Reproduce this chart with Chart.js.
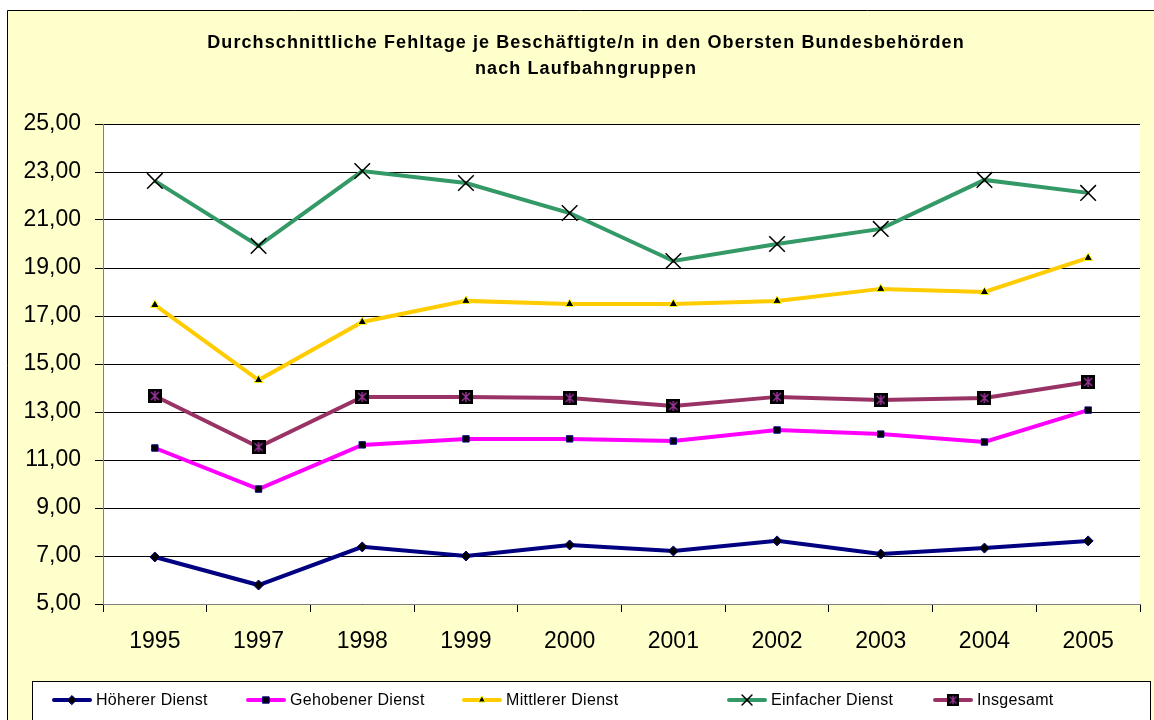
<!DOCTYPE html>
<html>
<head>
<meta charset="utf-8">
<script src="https://cdn.jsdelivr.net/npm/chart.js@4"></script>
<style>
  html, body { margin: 0; padding: 0; background: #fff; }
  #wrap { width: 1154px; height: 720px; }
</style>
</head>
<body>
<div id="wrap"><canvas id="chart" width="1154" height="720"></canvas></div>
<script>
const jahre = ["1995", "1997", "1998", "1999", "2000", "2001", "2002", "2003", "2004", "2005"];
const hoehererDienst = [6.96, 5.79, 7.38, 7.00, 7.46, 7.21, 7.63, 7.08, 7.33, 7.63];
const gehobenerDienst = [11.50, 9.79, 11.63, 11.88, 11.88, 11.79, 12.25, 12.08, 11.75, 13.08];
const mittlererDienst = [17.46, 14.33, 16.75, 17.63, 17.50, 17.50, 17.63, 18.13, 18.00, 19.42];
const einfacherDienst = [22.63, 19.92, 23.04, 22.54, 21.29, 19.29, 20.00, 20.63, 22.67, 22.13];
const insgesamt = [13.67, 11.54, 13.63, 13.63, 13.58, 13.25, 13.63, 13.50, 13.58, 14.25];
const titelZeilen = ["Durchschnittliche Fehltage je Beschäftigte/n in den Obersten Bundesbehörden", "nach Laufbahngruppen"];
const FONT = "'Liberation Sans', Arial, sans-serif";

// black square with purple asterisk, used as marker for "Insgesamt"
function makeStarMarker() {
    const c = document.createElement("canvas");
    c.width = 14; c.height = 14;
    const g = c.getContext("2d");
    g.fillStyle = "#000";
    g.fillRect(0, 0, 14, 14);
    g.strokeStyle = "#993399";
    g.lineWidth = 1.5;
    g.beginPath();
    g.moveTo(7, 2); g.lineTo(7, 12);
    g.moveTo(3, 3); g.lineTo(11, 11);
    g.moveTo(11, 3); g.lineTo(3, 11);
    g.stroke();
    return c;
}
const starMarker = makeStarMarker();

const seriesDefs = [
    { label: "Höherer Dienst", data: hoehererDienst, color: "#000080", point: "rectRot", fill: "#000", pborder: "#000080", radius: 5 },
    { label: "Gehobener Dienst", data: gehobenerDienst, color: "#FF00FF", point: "rect", fill: "#000", pborder: "#000080", radius: 4.5 },
    { label: "Mittlerer Dienst", data: mittlererDienst, color: "#FFCC00", point: "triangle", fill: "#000", pborder: "#FFFF00", radius: 5 },
    { label: "Einfacher Dienst", data: einfacherDienst, color: "#339966", point: "crossRot", fill: "#000", pborder: "#000", radius: 11 },
    { label: "Insgesamt", data: insgesamt, color: "#993366", point: starMarker, fill: "#000", pborder: "#000", radius: 7 }
];

const datasets = seriesDefs.map(s => ({
    label: s.label,
    data: s.data,
    borderColor: s.color,
    borderWidth: 4,
    tension: 0,
    pointStyle: s.point,
    pointRadius: s.radius,
    pointHoverRadius: s.radius,
    pointBackgroundColor: s.fill,
    pointBorderColor: s.pborder,
    pointBorderWidth: s.point === "crossRot" ? 1.5 : 1,
    fill: false
}));

const framePlugin = {
    id: "frame",
    beforeDraw(chart) {
        const ctx = chart.ctx;
        const a = chart.chartArea;
        ctx.save();
        ctx.fillStyle = "#fff";
        ctx.fillRect(0, 0, chart.width, chart.height);
        ctx.fillStyle = "#FFFFCC";
        ctx.fillRect(7, 10, chart.width, chart.height);
        ctx.strokeStyle = "#000";
        ctx.lineWidth = 1;
        ctx.beginPath();
        ctx.moveTo(7.5, chart.height); ctx.lineTo(7.5, 10.5); ctx.lineTo(chart.width, 10.5);
        ctx.stroke();
        ctx.fillStyle = "#fff";
        ctx.fillRect(a.left, a.top, a.right - a.left, a.bottom - a.top);
        // title
        ctx.fillStyle = "#000";
        ctx.font = "bold 18px " + FONT;
        ctx.letterSpacing = "1.1px";
        ctx.textAlign = "center";
        ctx.textBaseline = "middle";
        ctx.fillText(titelZeilen[0], 586, 43);
        ctx.fillText(titelZeilen[1], 586, 69);
        ctx.restore();
    },
    afterDraw(chart) {
        const ctx = chart.ctx;
        ctx.save();
        // legend box
        ctx.fillStyle = "#fff";
        ctx.fillRect(32, 681, 1119, 50);
        ctx.strokeStyle = "#000";
        ctx.lineWidth = 1;
        ctx.strokeRect(32.5, 681.5, 1118, 50);
        const xs = [52, 246, 462, 727, 933];
        const y = 700;
        ctx.font = "16px " + FONT;
        ctx.letterSpacing = "0.3px";
        ctx.textBaseline = "middle";
        ctx.textAlign = "left";
        chart.data.datasets.forEach((ds, i) => {
            const x0 = xs[i];
            ctx.strokeStyle = ds.borderColor;
            ctx.lineWidth = 4;
            ctx.lineCap = "round";
            ctx.beginPath();
            ctx.moveTo(x0 + 2, y); ctx.lineTo(x0 + 38, y);
            ctx.stroke();
            const r = ds.pointStyle === "crossRot" ? 7 : (ds.pointStyle === "triangle" ? 4 : 4.5);
            ctx.fillStyle = ds.pointBackgroundColor;
            ctx.strokeStyle = ds.pointBorderColor;
            ctx.lineWidth = ds.pointBorderWidth;
            if (typeof ds.pointStyle === "string") {
                Chart.helpers.drawPoint(ctx, { pointStyle: ds.pointStyle, radius: r, borderWidth: ds.pointBorderWidth, rotation: 0 }, x0 + 20, y);
            } else {
                ctx.drawImage(ds.pointStyle, x0 + 14, y - 6, 12, 12);
            }
            ctx.fillStyle = "#000";
            ctx.fillText(ds.label, x0 + 44, y + 1);
        });
        ctx.restore();
    }
};

new Chart(document.getElementById("chart"), {
    type: "line",
    data: { labels: jahre, datasets: datasets },
    options: {
        responsive: false,
        animation: false,
        layout: { padding: { top: 124, left: 0, right: 14, bottom: 0 } },
        plugins: {
            legend: { display: false },
            title: { display: false },
            tooltip: { enabled: false }
        },
        scales: {
            x: {
                offset: true,
                afterFit(scale) { scale.height = 116; },
                grid: { drawOnChartArea: false, drawTicks: true, tickLength: 8, offset: true, color: "#000" },
                border: { color: "#808080", width: 1 },
                ticks: { color: "#000", padding: 16, font: { size: 23, family: FONT } }
            },
            y: {
                min: 5,
                max: 25,
                afterFit(scale) { scale.width = 103; },
                ticks: {
                    stepSize: 2,
                    color: "#000",
                    padding: 14,
                    font: { size: 23, family: FONT },
                    callback: v => v.toFixed(2).replace(".", ",")
                },
                grid: { color: "#000", lineWidth: 1, tickLength: 8, tickColor: "#000" },
                border: { color: "#808080", width: 1 }
            }
        }
    },
    plugins: [framePlugin]
});
</script>
</body>
</html>
